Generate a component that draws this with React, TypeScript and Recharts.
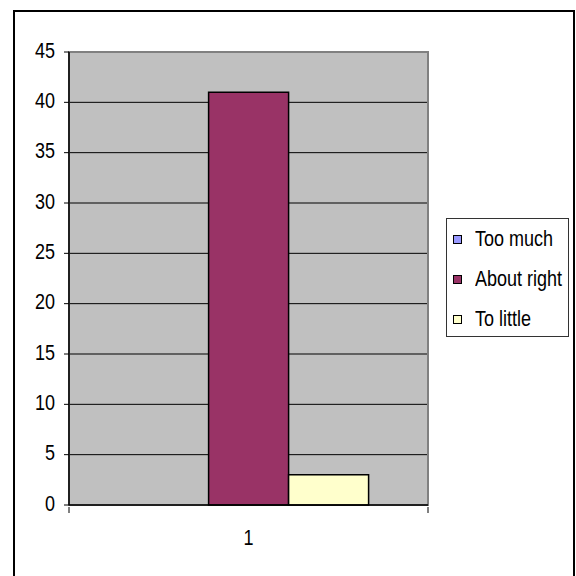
import React from "react";
import { BarChart, Bar, XAxis, YAxis, CartesianGrid, Legend, ReferenceArea } from "recharts";

const categories = ["1"];
const tooMuch = [0];
const aboutRight = [41];
const toLittle = [3];
const yTicks = [0, 5, 10, 15, 20, 25, 30, 35, 40, 45];

const seriesNames = ["Too much", "About right", "To little"];
const seriesColors = ["#9999FF", "#993366", "#FFFFCC"];

const data = categories.map((c, i) => ({
  name: c,
  tooMuch: tooMuch[i],
  aboutRight: aboutRight[i],
  toLittle: toLittle[i],
}));

const FONT = "'Liberation Sans', Arial, sans-serif";

const LegendContent = () => (
  <div
    style={{
      border: "1px solid #333",
      boxSizing: "border-box",
      width: 123,
      height: 119,
      background: "#fff",
      fontFamily: FONT,
      fontSize: 18,
      color: "#000",
      paddingTop: 0,
      paddingLeft: 6,
    }}
  >
    {seriesNames.map((n, i) => (
      <div key={n} style={{ display: "flex", alignItems: "center", height: 40 }}>
        <span
          style={{
            display: "inline-block",
            width: 7,
            height: 7,
            background: seriesColors[i],
            border: "1px solid #000",
            marginRight: 13,
          }}
        />
        <span style={{ display: "inline-block", transform: "scaleY(1.25)", whiteSpace: "nowrap" }}>{n}</span>
      </div>
    ))}
  </div>
);

const XTick = (props: any) => {
  const { x, y, payload } = props;
  const off = payload && payload.offset ? payload.offset : 0;
  return (
    <g>
      <line x1={x - off} x2={x - off} y1={y - 6} y2={y} stroke="#000" strokeWidth={1} />
      <line x1={x + off} x2={x + off} y1={y - 6} y2={y} stroke="#000" strokeWidth={1} />
      <text
        transform={`translate(${x},${y + 24}) scale(1,1.25)`}
        textAnchor="middle"
        dominantBaseline="central"
        fontFamily={FONT}
        fontSize={18}
        fill="#000"
      >
        {payload.value}
      </text>
    </g>
  );
};

const YTick = (props: any) => {
  const { x, y, payload } = props;
  return (
    <text
      transform={`translate(${x},${y - 2}) scale(1,1.25)`}
      textAnchor="end"
      dominantBaseline="central"
      fontFamily={FONT}
      fontSize={18}
      fill="#000"
    >
      {payload.value}
    </text>
  );
};

export default function App() {
  return (
    <div style={{ position: "absolute", left: 0, top: 0, width: 576, height: 576, background: "#fff", overflow: "hidden" }}>
      <div
        style={{
          position: "absolute",
          left: 13,
          top: 10,
          width: 558,
          height: 600,
          border: "2px solid #000",
        }}
      />
      <div style={{ position: "absolute", left: 0, top: 0 }}>
        <BarChart
          width={576}
          height={576}
          data={data}
          margin={{ top: 52, left: 19, right: 148, bottom: 41 }}
          barCategoryGap="16.6%"
          barGap={0}
        >
          <CartesianGrid vertical={false} stroke="#000" strokeWidth={1} fill="#C0C0C0" fillOpacity={1} />
          <ReferenceArea y1={0} y2={45} fill="none" stroke="#808080" strokeWidth={2} ifOverflow="visible" />
          <XAxis
            dataKey="name"
            height={30}
            axisLine={{ stroke: "#000", strokeWidth: 1.5 }}
            tickLine={false}
            tick={<XTick />}
          />
          <YAxis
            width={50}
            domain={[0, 45]}
            ticks={yTicks}
            interval={0}
            axisLine={{ stroke: "#000", strokeWidth: 1.5 }}
            tickLine={{ stroke: "#000" }}
            tickSize={5}
            tickMargin={9}
            tick={<YTick />}
          />
          <Legend
            layout="horizontal"
            align="center"
            verticalAlign="middle"
            content={<LegendContent />}
            wrapperStyle={{ left: 446, top: 218, width: 123, height: 119 }}
          />
          <Bar dataKey="tooMuch" name={seriesNames[0]} fill={seriesColors[0]} stroke="#000" strokeWidth={1.5} isAnimationActive={false} />
          <Bar dataKey="aboutRight" name={seriesNames[1]} fill={seriesColors[1]} stroke="#000" strokeWidth={1.5} isAnimationActive={false} />
          <Bar dataKey="toLittle" name={seriesNames[2]} fill={seriesColors[2]} stroke="#000" strokeWidth={1.5} isAnimationActive={false} />
        </BarChart>
      </div>
    </div>
  );
}
